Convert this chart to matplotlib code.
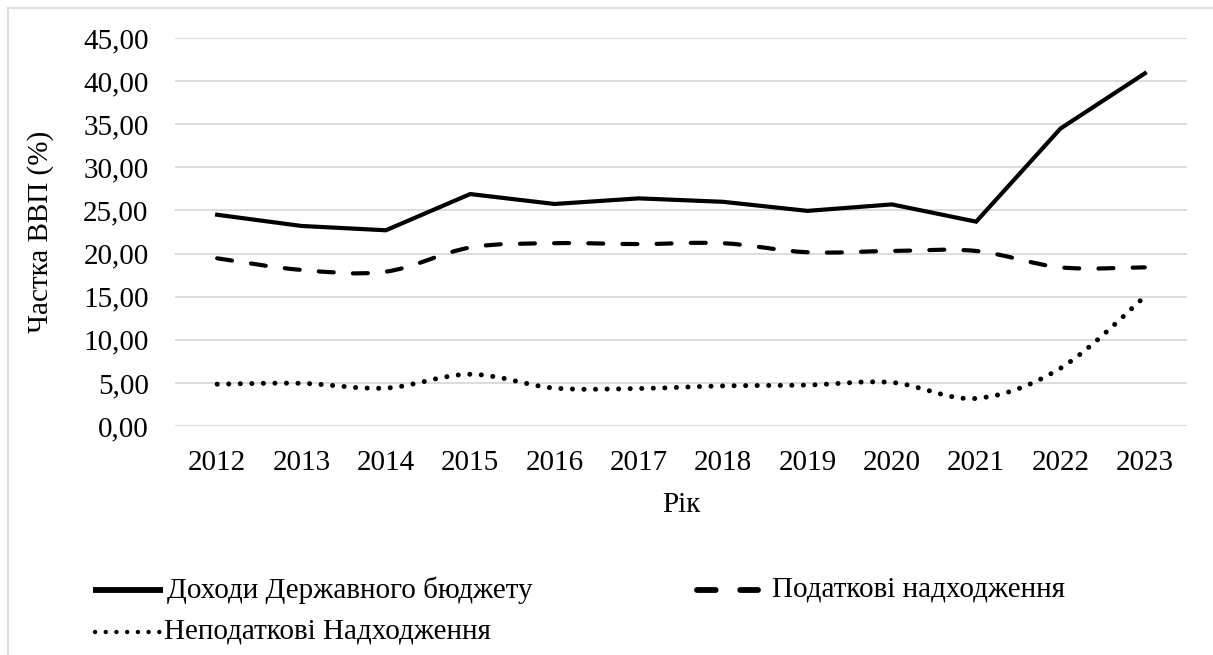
import matplotlib.pyplot as plt
import numpy as np
from matplotlib.path import Path
from matplotlib.patches import PathPatch
from matplotlib.lines import Line2D

plt.rcParams['font.family'] = ['Liberation Serif', 'DejaVu Serif']

years = ['2012', '2013', '2014', '2015', '2016', '2017', '2018', '2019', '2020', '2021', '2022', '2023']
dokhody = [24.5, 23.2, 22.7, 26.9, 25.75, 26.4, 26.0, 24.95, 25.7, 23.7, 34.5, 40.9]
podatkovi = [19.45, 18.1, 17.9, 20.7, 21.2, 21.1, 21.2, 20.15, 20.3, 20.3, 18.4, 18.4]
nepodatkovi = [4.85, 4.95, 4.4, 6.0, 4.4, 4.35, 4.65, 4.75, 5.05, 3.2, 6.7, 15.0]

labels = ['Доходи Державного бюджету', 'Податкові надходження', 'Неподаткові Надходження']

W, H = 1213, 655
FS = 21


def fx(x):
    return x / W


def fy(y):
    return 1 - y / H


def smooth_path(xs, ys):
    # Excel-like smoothed line: cubic bezier through every point
    pts = np.column_stack([xs, ys]).astype(float)
    n = len(pts)
    verts = [pts[0]]
    codes = [Path.MOVETO]
    for i in range(n - 1):
        p0 = pts[max(i - 1, 0)]
        p1 = pts[i]
        p2 = pts[i + 1]
        p3 = pts[min(i + 2, n - 1)]
        c1 = p1 + (p2 - p0) / 6
        c2 = p2 - (p3 - p1) / 6
        verts += [c1, c2, p2]
        codes += [Path.CURVE4] * 3
    return Path(verts, codes)


fig = plt.figure(figsize=(W / 100, H / 100), dpi=100)
ax = fig.add_axes([fx(175), fy(426), fx(1187) - fx(175), fy(38) - fy(426)])

x = np.arange(len(years))
dash_style = (0, (3.6, 4.6))
dot_style = (0, (0.01, 2.3))

ax.plot(x, dokhody, color='black', lw=3, solid_joinstyle='miter', zorder=3)
ax.add_patch(PathPatch(smooth_path(x, podatkovi), fill=False, color='black', lw=3,
                       linestyle=dash_style, capstyle='round', zorder=3))
ax.add_patch(PathPatch(smooth_path(x, nepodatkovi), fill=False, color='black', lw=3.6,
                       linestyle=dot_style, capstyle='round', zorder=3))

ax.set_xlim(-0.5, len(years) - 0.5)
ax.set_ylim(0, 45)
ax.set_yticks(np.arange(0, 46, 5))
ax.set_yticklabels([f'{v:.2f}'.replace('.', ',') for v in np.arange(0, 46, 5)])
ax.set_xticks(x)
ax.set_xticklabels(years)
ax.tick_params(axis='both', length=0, labelsize=FS)
ax.tick_params(axis='x', pad=17)
ax.tick_params(axis='y', pad=19)
ax.grid(axis='y', color='#d9d9d9', lw=1.3)
ax.set_axisbelow(True)
for s in ax.spines.values():
    s.set_visible(False)

fig.text(fx(41), fy(232), 'Частка ВВП (%)', rotation=90, ha='center', va='center', fontsize=FS)
fig.text(fx(681), fy(505), 'Рік', ha='center', va='center', fontsize=FS)

# outer chart frame
fig.add_artist(Line2D([fx(8), 1], [fy(8), fy(8)], color='#d9d9d9', lw=1.3))
fig.add_artist(Line2D([fx(8), fx(8)], [fy(8), 0], color='#d9d9d9', lw=1.3))

# legend drawn by hand
leg = [
    (93, 163, 590, '-', 4.2, 167, labels[0]),
    (697, 758, 590, (0, (3.2, 4.2)), 4.2, 772, labels[1]),
    (95, 160, 632, (0, (0.01, 2.4)), 3.2, 164, labels[2]),
]
for x0, x1, y0, ls, lw, tx, txt in leg:
    fig.add_artist(Line2D([fx(x0), fx(x1)], [fy(y0), fy(y0)], color='black', lw=lw,
                          linestyle=ls, dash_capstyle='round', solid_capstyle='butt'))
    fig.text(fx(tx), fy(y0), txt, ha='left', va='center', fontsize=FS)

fig.savefig('out.png', dpi=100)
